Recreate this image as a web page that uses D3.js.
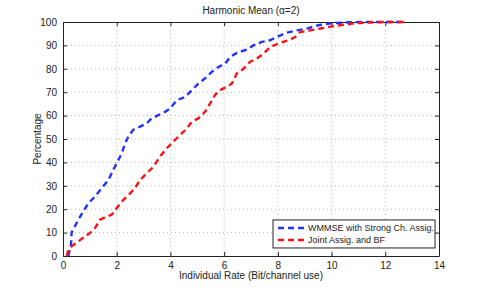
<!DOCTYPE html>
<html>
<head>
<meta charset="utf-8">
<script src="https://cdn.jsdelivr.net/npm/d3@7"></script>
<style>
  body { margin: 0; background: #fff; }
  svg { font-family: "Liberation Sans", Arial, sans-serif; }
  .grid line { stroke: #bbb; stroke-dasharray: 1,3; }
</style>
</head>
<body>
<div id="chart"></div>
<script>
'use strict'

const seriesNames = ['WMMSE with Strong Ch. Assig.', 'Joint Assig. and BF']
const colors = ['#2233ff', '#ff1111']

const wmmseX = [0.2, 0.3, 0.32, 0.57, 0.7, 0.94, 1.19, 1.44, 1.69, 1.88, 2.0, 2.19, 2.31, 2.43, 2.62, 2.87, 3.12, 3.3, 3.55, 3.8, 3.99, 4.24, 4.55, 4.8, 5.04, 5.29, 5.54, 5.79, 6.04, 6.22, 6.47, 6.84, 7.09, 7.4, 7.71, 7.96, 8.34, 8.71, 9.08, 9.5, 9.9, 10.2, 10.7, 11.3, 12.6]
const wmmseY = [0, 5, 10, 15.5, 18, 22.5, 25.4, 29, 32.5, 37, 39.6, 44, 48, 51, 54, 55.3, 56.7, 58.8, 60.2, 61.6, 63, 66.6, 68, 70.9, 73.7, 75.9, 78.7, 80.8, 82.2, 85, 86.8, 88.2, 90, 91.5, 92.2, 93.6, 95.5, 96.4, 97.2, 98.6, 99.3, 99.6, 99.9, 100, 100]

const jointX = [0.14, 0.2, 0.32, 0.57, 0.82, 1.0, 1.19, 1.38, 1.63, 1.81, 2.0, 2.25, 2.5, 2.68, 2.87, 3.12, 3.37, 3.61, 3.86, 4.11, 4.36, 4.61, 4.8, 5.04, 5.29, 5.48, 5.66, 5.85, 6.1, 6.29, 6.47, 6.72, 6.97, 7.22, 7.47, 7.71, 8.02, 8.4, 8.65, 8.83, 9.2, 9.58, 9.9, 10.3, 10.76, 11.2, 11.9, 12.7]
const jointY = [0, 2.7, 4.1, 6.2, 8.4, 9.8, 11.9, 15.5, 16.9, 17.6, 20.5, 24, 26.8, 29, 32.5, 35.4, 38.2, 42.5, 46, 48.9, 51.7, 54.5, 57.4, 58.8, 61.6, 65.2, 68.8, 70.9, 72.3, 73.7, 78, 80, 83, 84.4, 86.5, 89.3, 90.8, 92.2, 93.6, 95.7, 96.4, 97.2, 97.9, 98.6, 99.3, 99.7, 100, 100]

const xTicks = [0, 2, 4, 6, 8, 10, 12, 14]
const yTicks = [0, 10, 20, 30, 40, 50, 60, 70, 80, 90, 100]

const width = 485
const height = 288
const margin = { top: 22, right: 46, bottom: 32, left: 63 }
const w = width - margin.left - margin.right
const h = height - margin.top - margin.bottom

const svg = d3.select('#chart')
  .append('svg')
  .attr('width', width)
  .attr('height', height)

const g = svg.append('g')
  .attr('transform', `translate(${margin.left}, ${margin.top})`)

const x = d3.scaleLinear().domain([0, 14]).range([0, w])
const y = d3.scaleLinear().domain([0, 100]).range([h, 0])

// dotted grid
g.append('g').attr('class', 'grid')
  .selectAll('line.gx')
  .data(xTicks.slice(1, -1))
  .enter().append('line')
  .attr('x1', d => x(d)).attr('x2', d => x(d))
  .attr('y1', 0).attr('y2', h)
g.append('g').attr('class', 'grid')
  .selectAll('line.gy')
  .data(yTicks.slice(1, -1))
  .enter().append('line')
  .attr('x1', 0).attr('x2', w)
  .attr('y1', d => y(d)).attr('y2', d => y(d))

// axes with inward ticks, MATLAB style
const fmt = d3.format('d')
g.append('g')
  .attr('transform', `translate(0, ${h})`)
  .call(d3.axisBottom(x).tickValues(xTicks).tickFormat(fmt).tickSizeInner(-4).tickSizeOuter(0).tickPadding(6))
g.append('g')
  .call(d3.axisTop(x).tickValues(xTicks).tickFormat('').tickSizeInner(-4).tickSizeOuter(0))
g.append('g')
  .call(d3.axisLeft(y).tickValues(yTicks).tickFormat(fmt).tickSizeInner(-4).tickSizeOuter(0).tickPadding(6))
g.append('g')
  .attr('transform', `translate(${w}, 0)`)
  .call(d3.axisRight(y).tickValues(yTicks).tickFormat('').tickSizeInner(-4).tickSizeOuter(0))

g.selectAll('.tick text').attr('font-size', 10).attr('fill', '#222')
g.selectAll('.domain, .tick line').attr('stroke', '#222')

// curves
const line = d3.line().x(d => x(d[0])).y(d => y(d[1]))
const series = [d3.zip(wmmseX, wmmseY), d3.zip(jointX, jointY)]

g.selectAll('path.curve')
  .data(series)
  .enter().append('path')
  .attr('class', 'curve')
  .attr('d', line)
  .attr('fill', 'none')
  .attr('stroke', (d, i) => colors[i])
  .attr('stroke-width', 2.4)
  .attr('stroke-dasharray', '6,4')

// legend
const lg = g.append('g')
  .attr('transform', `translate(${x(7.82)}, ${y(15.4)})`)
lg.append('rect')
  .attr('width', 162).attr('height', 28)
  .attr('fill', '#fff').attr('stroke', '#222')
const item = lg.selectAll('g.item')
  .data(seriesNames)
  .enter().append('g')
  .attr('transform', (d, i) => `translate(0, ${8 + i * 12})`)
item.append('line')
  .attr('x1', 5).attr('x2', 32)
  .attr('stroke', (d, i) => colors[i])
  .attr('stroke-width', 2.4)
  .attr('stroke-dasharray', '6,4')
item.append('text')
  .attr('x', 35).attr('dy', '0.35em')
  .attr('font-size', 9).attr('fill', '#222')
  .text(d => d)

// labels
svg.append('text')
  .attr('x', margin.left + w / 2).attr('y', 14)
  .attr('text-anchor', 'middle').attr('font-size', 10).attr('fill', '#222')
  .text('Harmonic Mean (α=2)')
svg.append('text')
  .attr('x', margin.left + w / 2).attr('y', 279)
  .attr('text-anchor', 'middle').attr('font-size', 10).attr('fill', '#222')
  .text('Individual Rate (Bit/channel use)')
svg.append('text')
  .attr('transform', `translate(41, ${margin.top + h / 2}) rotate(-90)`)
  .attr('text-anchor', 'middle').attr('font-size', 10).attr('fill', '#222')
  .text('Percentage')
</script>
</body>
</html>
